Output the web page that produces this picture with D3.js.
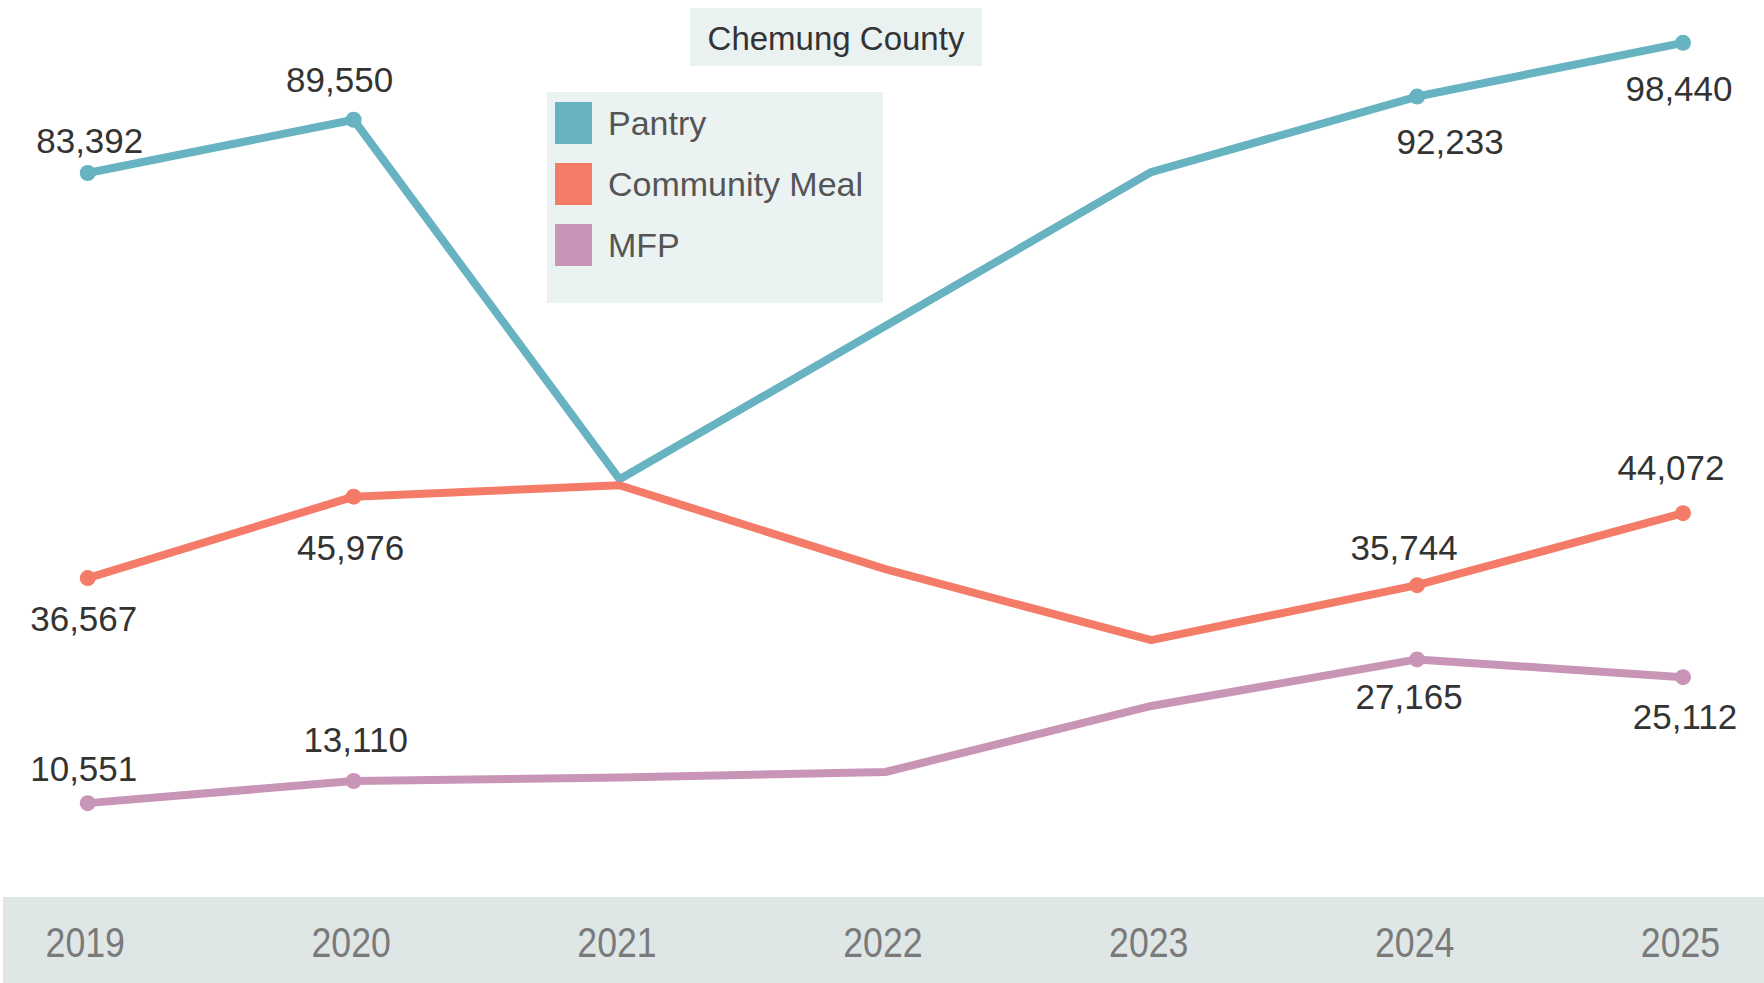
<!DOCTYPE html>
<html>
<head>
<meta charset="utf-8">
<script src="https://cdn.jsdelivr.net/npm/d3@7"></script>
<style>
  html, body { margin: 0; padding: 0; background: #ffffff; }
  svg { display: block; }
</style>
</head>
<body>
<svg id="chart" width="1764" height="983"></svg>
<script>
// ---- data ----
const years = [2019, 2020, 2021, 2022, 2023, 2024, 2025];
const seriesNames = ["Pantry", "Community Meal", "MFP"];
const pantry = [83392, 89550, 48000, 65700, 83500, 92233, 98440];
const communityMeal = [36567, 45976, 47300, 37600, 29400, 35744, 44072];
const mfp = [10551, 13110, 13500, 14150, 21780, 27165, 25112];
const labeledYears = [2019, 2020, 2024, 2025];
const chartTitle = "Chemung County";

// ---- style / layout ----
const colors = ["#67b3c1", "#f47b67", "#c995b7"];
// label placement (dx, dy from the point), per series, per labeled year
const labelOffsets = [
  [[2, -32], [-14, -40], [33, 45], [-4, 46]],
  [[-4, 41], [-3, 51], [-13, -37], [-12, -45]],
  [[-4, -34], [2, -41], [-8, 37], [2, 40]]
];

const W = 1764, H = 983;
const svg = d3.select("#chart");

const x = d3.scalePoint().domain(years).range([87.75, 1683]);
const y = d3.scaleLinear().domain([0, 100000]).range([894.4, 29.35]);

const fmt = d3.format(",");

// axis band
svg.append("rect").attr("x", 3).attr("y", 897).attr("width", W - 3).attr("height", H - 897)
  .attr("fill", "#dfe6e6");

const xAxis = d3.axisBottom(x).tickSize(0).tickPadding(0).tickFormat(d => String(d));
const gx = svg.append("g").attr("transform", "translate(0,897)").call(xAxis);
gx.select(".domain").remove();
gx.selectAll("text")
  .attr("y", 0).attr("dy", "0.35em")
  .attr("transform", "translate(-3,45) scale(0.85,1)")
  .attr("fill", "#7a7a7a")
  .style("font-family", "'Liberation Sans', Arial, sans-serif")
  .style("font-size", "42px");

const allSeries = [pantry, communityMeal, mfp];
const line = d3.line().x((d, i) => x(years[i])).y(d => y(d));

allSeries.forEach((vals, s) => {
  svg.append("path").datum(vals)
    .attr("d", line)
    .attr("fill", "none")
    .attr("stroke", colors[s])
    .attr("stroke-width", 8)
    .attr("stroke-linejoin", "round")
    .attr("stroke-linecap", "round");
});

allSeries.forEach((vals, s) => {
  const pts = labeledYears.map(yr => ({ yr, v: vals[years.indexOf(yr)] }));
  svg.selectAll(null).data(pts).enter().append("circle")
    .attr("cx", d => x(d.yr)).attr("cy", d => y(d.v)).attr("r", 8)
    .attr("fill", colors[s]);
  svg.selectAll(null).data(pts).enter().append("text")
    .attr("x", (d, i) => x(d.yr) + labelOffsets[s][i][0])
    .attr("y", (d, i) => y(d.v) + labelOffsets[s][i][1])
    .attr("dy", "0.35em")
    .attr("text-anchor", "middle")
    .attr("fill", "#333333")
    .style("font-family", "'Liberation Sans', Arial, sans-serif")
    .style("font-size", "35px")
    .text(d => fmt(d.v));
});

// title box
svg.append("rect").attr("x", 690).attr("y", 8).attr("width", 292).attr("height", 58).attr("fill", "#e9f1f1");
svg.append("text").attr("x", 836).attr("y", 38).attr("dy", "0.35em").attr("text-anchor", "middle")
  .attr("fill", "#333333")
  .style("font-family", "'Liberation Sans', Arial, sans-serif").style("font-size", "33px")
  .text(chartTitle);

// legend
const lg = svg.append("g");
lg.append("rect").attr("x", 547).attr("y", 92).attr("width", 336).attr("height", 211).attr("fill", "#ebf2f2");
seriesNames.forEach((name, i) => {
  const cy = 123 + i * 61;
  lg.append("rect").attr("x", 555).attr("y", cy - 21).attr("width", 37).attr("height", 42).attr("fill", colors[i]);
  lg.append("text").attr("x", 608).attr("y", cy).attr("dy", "0.35em")
    .attr("fill", "#555555")
    .style("font-family", "'Liberation Sans', Arial, sans-serif").style("font-size", "34px")
    .text(name);
});
</script>
</body>
</html>
